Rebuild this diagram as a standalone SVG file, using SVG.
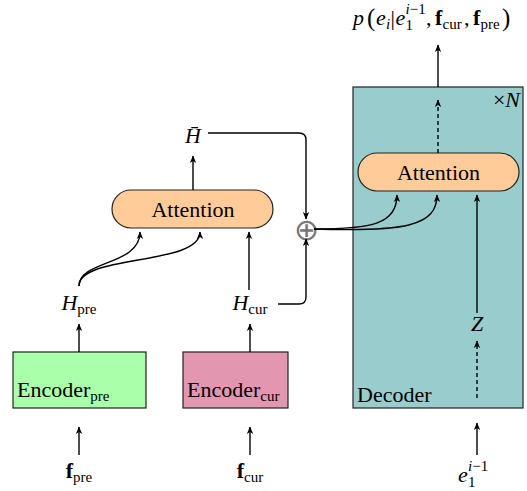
<svg xmlns="http://www.w3.org/2000/svg" width="527" height="491" viewBox="0 0 527 491" font-family="'Liberation Serif', 'Times New Roman', serif">
<defs>
<style>
text{font-family:'Liberation Serif','Times New Roman',serif;font-size:22px;fill:#000}
.it{font-style:italic}
.bf{font-weight:bold}
.sub{font-size:15px}
.c{text-anchor:middle}
.ln{fill:none;stroke:#000;stroke-width:1.4}
.da{stroke-dasharray:4 3}
.box{stroke:#222;stroke-width:1.2}
</style>
<marker id="ah" viewBox="0 0 8 8" refX="7" refY="4" markerWidth="8" markerHeight="8" markerUnits="userSpaceOnUse" orient="auto">
<path d="M0,0.8 L7.5,4 L0,7.2 L2,4 z" fill="#000"/>
</marker>
</defs>
<rect width="527" height="491" fill="#fff"/>

<g id="decoder">
<rect class="box" x="353" y="87" width="170" height="321" fill="#99cccc"/>
<text x="357" y="402">Decoder</text>
<text x="520" y="107" text-anchor="end">×<tspan class="it">N</tspan></text>
</g>

<g id="attention-left">
<rect class="box" x="112" y="190" width="161" height="38" rx="19" fill="#ffcc99"/>
<text class="c" x="193" y="216.5">Attention</text>
</g>

<g id="attention-right">
<rect class="box" x="358" y="153" width="161" height="38" rx="19" fill="#ffcc99"/>
<text class="c" x="438.5" y="179.5">Attention</text>
</g>

<g id="encoder-pre">
<rect class="box" x="13" y="352" width="133" height="56" fill="#aaffaa"/>
<text x="17" y="397">Encoder<tspan class="sub" dy="4">pre</tspan></text>
</g>

<g id="encoder-cur">
<rect class="box" x="183" y="352" width="105" height="56" fill="#e396b0"/>
<text x="187" y="397">Encoder<tspan class="sub" dy="4">cur</tspan></text>
</g>

<g id="hbar">
<text class="it c" x="193" y="143">H̄</text>
</g>

<g id="h-pre">
<text class="c" x="79" y="310"><tspan class="it">H</tspan><tspan class="sub" dy="4">pre</tspan></text>
</g>

<g id="h-cur">
<text class="c" x="250" y="310"><tspan class="it">H</tspan><tspan class="sub" dy="4">cur</tspan></text>
</g>

<g id="f-pre">
<text class="c" x="79" y="478"><tspan class="bf">f</tspan><tspan class="sub" dy="4">pre</tspan></text>
</g>

<g id="f-cur">
<text class="c" x="250" y="478"><tspan class="bf">f</tspan><tspan class="sub" dy="4">cur</tspan></text>
</g>

<g id="oplus">
<text x="306" y="229" text-anchor="middle" dominant-baseline="central" style="font-family:'DejaVu Sans',sans-serif;font-weight:200;font-size:30px;fill:#777">⊕</text>
</g>

<g id="z">
<text class="it c" x="477" y="331">Z</text>
</g>

<g id="e-prev">
<text x="458" y="482"><tspan class="it">e</tspan></text>
<text x="468" y="471" class="sub"><tspan class="it">i</tspan>−1</text>
<text x="468" y="487" class="sub">1</text>
</g>

<g id="output">
<text x="353" y="25"><tspan class="it">p</tspan></text>
<text x="367" y="26" style="font-size:25px">(</text>
<text x="376" y="25" class="it">e</text>
<text x="386" y="29" class="sub it">i</text>
<text x="390.5" y="25">|</text>
<text x="395.5" y="25" class="it">e</text>
<text x="405.5" y="14" class="sub"><tspan class="it">i</tspan>−1</text>
<text x="405.5" y="30" class="sub">1</text>
<text x="426" y="25">,</text>
<text x="435" y="25" class="bf">f</text>
<text x="442.5" y="29" class="sub">cur</text>
<text x="464" y="25">,</text>
<text x="473" y="25" class="bf">f</text>
<text x="480.5" y="29" class="sub">pre</text>
<text x="502" y="26" style="font-size:25px">)</text>
</g>

<g id="connectors">
<path class="ln" d="M79,455 V427" marker-end="url(#ah)"/>
<path class="ln" d="M250,455 V427" marker-end="url(#ah)"/>
<path class="ln" d="M79,352 V324" marker-end="url(#ah)"/>
<path class="ln" d="M250,352 V324" marker-end="url(#ah)"/>
<path class="ln" d="M79,286 C79,260 140,266 140,232" marker-end="url(#ah)"/>
<path class="ln" d="M79,286 C79,254 200,266 200,232" marker-end="url(#ah)"/>
<path class="ln" d="M249,290 V232" marker-end="url(#ah)"/>
<path class="ln" d="M193,190 V156" marker-end="url(#ah)"/>
<path class="ln" d="M208,133 H299 Q306,133 306,140 V219" marker-end="url(#ah)"/>
<path class="ln" d="M278,304 H299 Q306,304 306,297 V239" marker-end="url(#ah)"/>
<path class="ln" d="M314,229 C372,229 397,224 397,195" marker-end="url(#ah)"/>
<path class="ln" d="M314,229 C405,232 437,226 437,195" marker-end="url(#ah)"/>
<path class="ln" d="M477,313 V195" marker-end="url(#ah)"/>
<path class="ln da" d="M477,398 V341" marker-end="url(#ah)"/>
<path class="ln" d="M477,455 V423" marker-end="url(#ah)"/>
<path class="ln da" d="M438,153 V100" marker-end="url(#ah)"/>
<path class="ln" d="M438,87 V45" marker-end="url(#ah)"/>
</g>
</svg>
